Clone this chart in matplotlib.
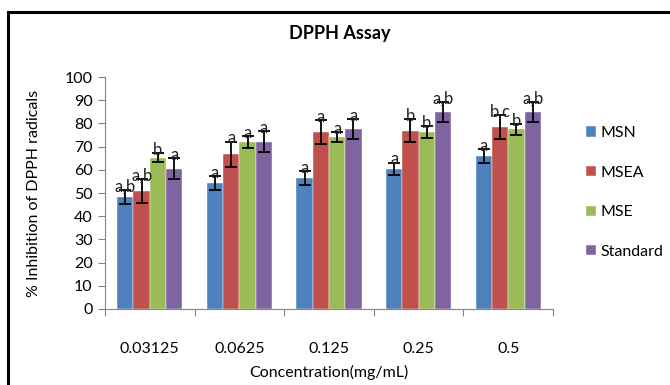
import numpy as np
import matplotlib.pyplot as plt
from matplotlib.patches import Rectangle

concentrations = ["0.03125", "0.0625", "0.125", "0.25", "0.5"]
series = ["MSN", "MSEA", "MSE", "Standard"]

msn = [48.3, 54.3, 56.5, 60.5, 65.9]
msea = [50.8, 66.7, 76.3, 76.9, 78.3]
mse = [65.2, 72.1, 74.0, 76.3, 77.4]
standard = [60.5, 72.1, 77.4, 84.9, 85.0]

msn_err = [3.2, 3.0, 3.0, 2.6, 3.0]
msea_err = [5.2, 5.4, 5.2, 5.0, 5.2]
mse_err = [2.0, 2.5, 2.2, 2.4, 2.3]
standard_err = [4.5, 4.5, 4.3, 4.3, 4.3]

msn_sig = ["a,b", "a", "a", "a", "a"]
msea_sig = ["a,b", "a", "a", "b", "b,c"]
mse_sig = ["b", "a", "a", "b", "b"]
standard_sig = ["a", "a", "a", "a,b", "a,b"]

colors = ["#4F81BD", "#C0504D", "#9BBB59", "#8064A2"]
plt.rcParams['font.family'] = ['Lato', 'DejaVu Sans']

values = [msn, msea, mse, standard]
errors = [msn_err, msea_err, mse_err, standard_err]
letters = [msn_sig, msea_sig, mse_sig, standard_sig]

fig = plt.figure(figsize=(6.7, 3.85), dpi=100)
ax = fig.add_axes([105 / 670, 1 - 309 / 385, 448 / 670, 232 / 385])

# chart frame, open on the right and bottom
fig.patches.append(Rectangle((8 / 670, -0.1), 1.2, 1 - 12 / 385 + 0.1,
                             transform=fig.transFigure, fill=False,
                             edgecolor="black", linewidth=2.2))

x = np.arange(len(concentrations))
width = 0.182
for i, name in enumerate(series):
    pos = x + (i - 1.5) * width
    ax.bar(pos, values[i], width, color=colors[i], label=name,
           edgecolor="white", linewidth=0.3, zorder=2)
    ax.errorbar(pos, values[i], yerr=errors[i], fmt="none", ecolor="black",
                elinewidth=1.3, capsize=4, capthick=1.3, zorder=3)
    for p, v, e, s in zip(pos, values[i], errors[i], letters[i]):
        ax.text(p, v + e - 2.0, s, ha="center", va="bottom", fontsize=12,
                color="#222222", zorder=4)

ax.set_xlim(-0.5, len(concentrations) - 0.5)
ax.set_ylim(0, 100)
ax.set_yticks(range(0, 101, 10))
ax.set_xticks(np.arange(-0.5, len(concentrations), 1.0))
ax.set_xticklabels([])
ax.set_xticks(x, minor=True)
ax.set_xticklabels(concentrations, minor=True)
ax.tick_params(axis="x", which="minor", length=0, pad=24, labelsize=11.5)
ax.tick_params(axis="x", which="major", length=5, color="#868686")
ax.tick_params(axis="y", length=5, color="#868686", labelsize=11.5, pad=4)

for side in ["top", "right"]:
    ax.spines[side].set_visible(False)
for side in ["left", "bottom"]:
    ax.spines[side].set_color("#868686")

ax.set_xlabel("Concentration(mg/mL)", fontsize=11.5, labelpad=6)
ax.set_ylabel("% Inhibition of DPPH radicals", fontsize=11.5, labelpad=17)
fig.text(340 / 670, 1 - 33 / 385, "DPPH Assay", ha="center", va="center",
         fontsize=13, fontweight="bold")

ax.legend(loc="center left", bbox_to_anchor=(572 / 670, 0.5),
          bbox_transform=fig.transFigure, frameon=False, fontsize=11.5,
          handlelength=0.6, handleheight=0.6, handletextpad=0.3,
          labelspacing=1.6)

fig.savefig("out.png", dpi=100)
